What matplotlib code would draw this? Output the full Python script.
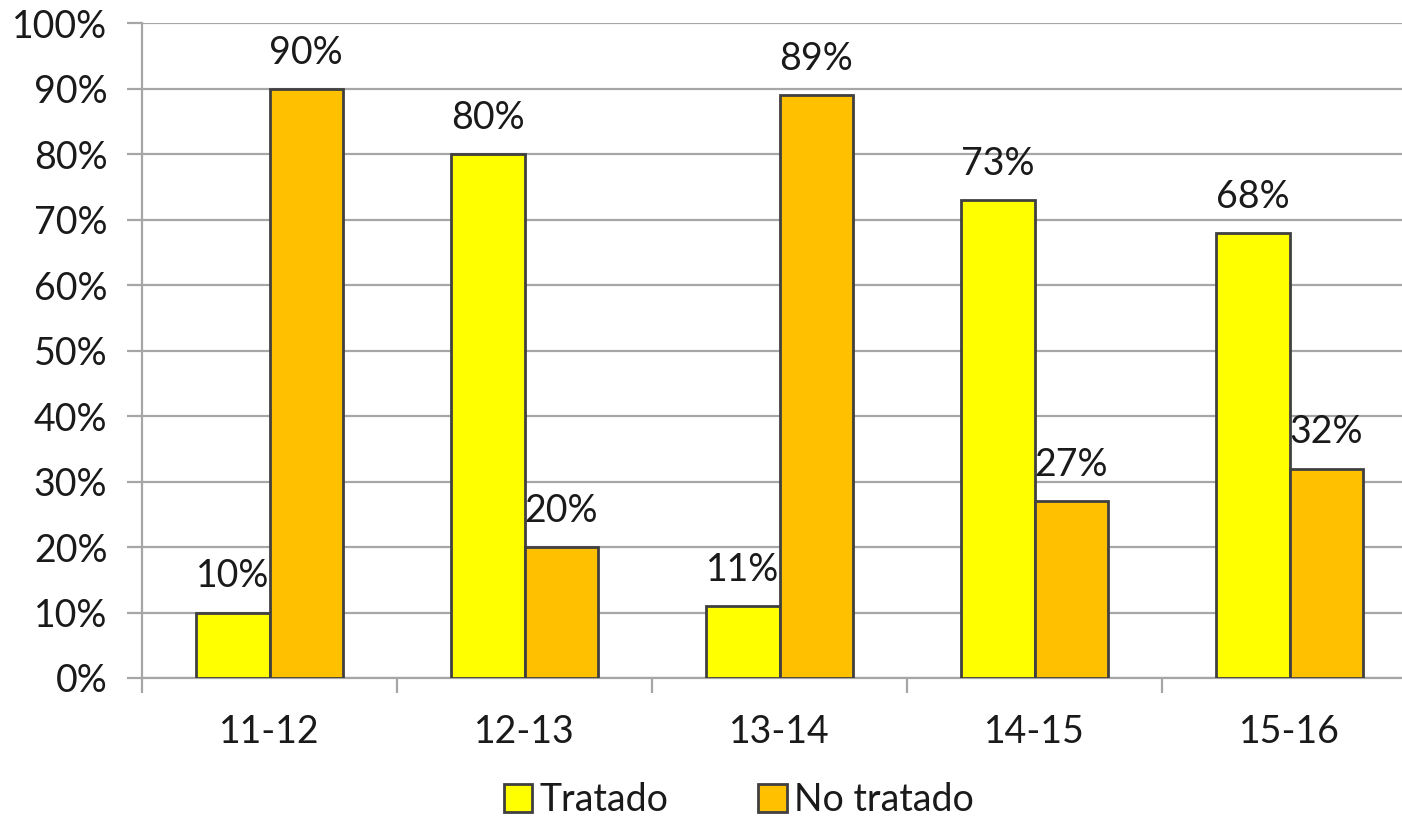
import matplotlib.pyplot as plt
import numpy as np
from matplotlib.ticker import FuncFormatter, FixedLocator

plt.rcParams['font.family'] = ['Lato', 'DejaVu Sans']

seasons = ['11-12', '12-13', '13-14', '14-15', '15-16']
tratado = [10, 80, 11, 73, 68]
no_tratado = [90, 20, 89, 27, 32]

yellow = '#FFFF00'
orange = '#FFC000'
edge = '#404040'
grid_gray = '#A6A6A6'
text_col = '#1a1a1a'


def main():
    fig = plt.figure(figsize=(14.02, 8.19), dpi=100)
    ax = fig.add_axes([0.1013, 0.1722, 0.9094, 0.7992])

    x = np.arange(len(seasons)) + 0.5
    w = 0.288
    b1 = ax.bar(x - w / 2, tratado, w, color=yellow, edgecolor=edge,
                linewidth=2.0, label='Tratado', zorder=3)
    b2 = ax.bar(x + w / 2, no_tratado, w, color=orange, edgecolor=edge,
                linewidth=2.0, label='No tratado', zorder=3)

    for bars, vals in ((b1, tratado), (b2, no_tratado)):
        for rect, v in zip(bars, vals):
            ax.annotate(f'{v}%', (rect.get_x() + rect.get_width() / 2, v),
                        xytext=(0, 13), textcoords='offset points',
                        ha='center', va='bottom', fontsize=27, color=text_col)

    ax.set_xlim(0, len(seasons))
    ax.set_ylim(0, 100)
    ax.set_yticks(np.arange(0, 101, 10))
    ax.yaxis.set_major_formatter(FuncFormatter(lambda v, p: f'{v:.0f}%'))
    ax.grid(axis='y', color=grid_gray, linewidth=1.6, zorder=0)

    # category labels centred, tick marks at the group boundaries
    ax.xaxis.set_major_locator(FixedLocator(np.arange(len(seasons) + 1)))
    ax.set_xticklabels([])
    ax.xaxis.set_minor_locator(FixedLocator(x))
    ax.set_xticklabels(seasons, minor=True)
    ax.tick_params(axis='x', which='minor', length=0, pad=26, labelsize=27,
                   labelcolor=text_col)
    ax.tick_params(axis='x', which='major', length=11, width=1.6,
                   color=grid_gray)
    ax.tick_params(axis='y', length=11, width=1.6, color=grid_gray,
                   labelsize=27, labelcolor=text_col, pad=14)

    for side in ('top', 'right'):
        ax.spines[side].set_visible(False)
    for side in ('left', 'bottom'):
        ax.spines[side].set_color(grid_gray)
        ax.spines[side].set_linewidth(1.6)

    fig.legend(handles=[b1, b2], loc='center', bbox_to_anchor=(0.527, 0.023),
               ncol=2, frameon=False, fontsize=27, handlelength=0.75,
               handleheight=0.75, handletextpad=0.2, columnspacing=2.4,
               labelcolor=text_col)

    fig.savefig('out.png', dpi=100)
    plt.close(fig)


if __name__ == '__main__':
    main()
